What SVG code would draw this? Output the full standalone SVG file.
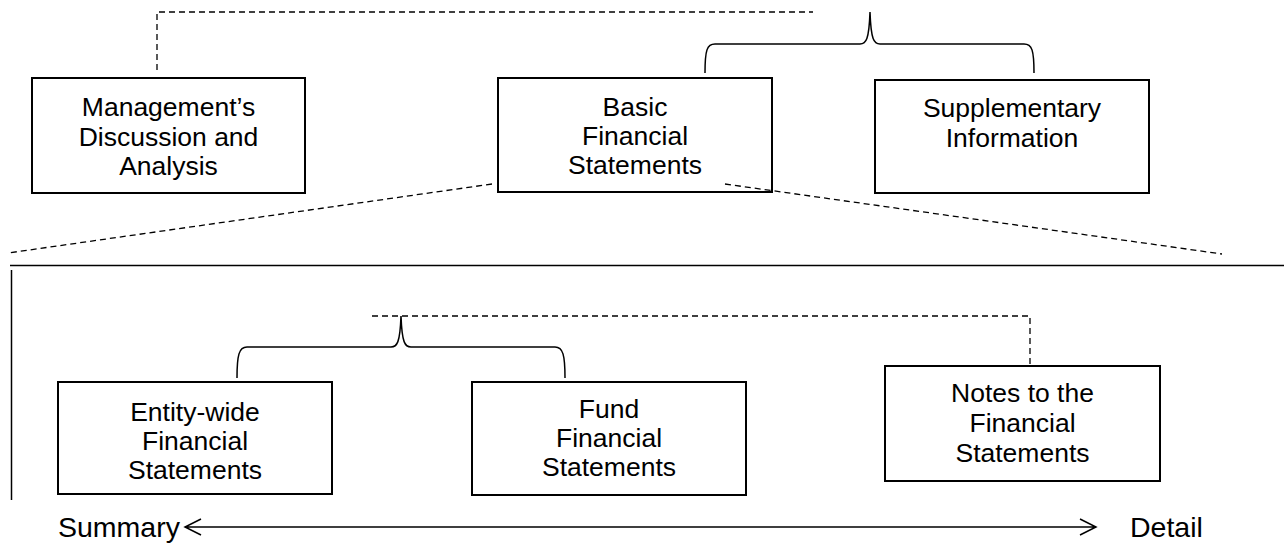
<svg xmlns="http://www.w3.org/2000/svg" width="1284" height="544" viewBox="0 0 1284 544">
<style>
.box{fill:#fff;stroke:#000;stroke-width:2}
.t{font-family:"Liberation Sans",Arial,sans-serif;font-size:26.5px;fill:#000;text-anchor:middle}
.lbl{font-family:"Liberation Sans",Arial,sans-serif;font-size:28.5px;fill:#000}
.dash{fill:none;stroke:#000;stroke-width:1.3;stroke-dasharray:6,4}
.solid{fill:none;stroke:#000;stroke-width:1.5}
</style>
<rect width="1284" height="544" fill="#fff"/>
<g id="mda">
<rect class="box" x="32" y="78" width="273" height="115"/>
<text class="t" x="168.5" y="116">Management’s</text>
<text class="t" x="168.5" y="145.5">Discussion and</text>
<text class="t" x="168.5" y="175">Analysis</text>
</g>
<g id="basic">
<rect class="box" x="498" y="78" width="274" height="114"/>
<text class="t" x="635" y="116">Basic</text>
<text class="t" x="635" y="145">Financial</text>
<text class="t" x="635" y="174">Statements</text>
</g>
<g id="supplementary">
<rect class="box" x="875" y="80" width="274" height="113"/>
<text class="t" x="1012" y="117">Supplementary</text>
<text class="t" x="1012" y="147">Information</text>
</g>
<g id="entity">
<rect class="box" x="58" y="382" width="274" height="112"/>
<text class="t" x="195" y="421">Entity-wide</text>
<text class="t" x="195" y="450">Financial</text>
<text class="t" x="195" y="479">Statements</text>
</g>
<g id="fund">
<rect class="box" x="472" y="382" width="274" height="113"/>
<text class="t" x="609" y="418">Fund</text>
<text class="t" x="609" y="447">Financial</text>
<text class="t" x="609" y="476">Statements</text>
</g>
<g id="notes">
<rect class="box" x="885" y="366" width="275" height="115"/>
<text class="t" x="1022.5" y="402">Notes to the</text>
<text class="t" x="1022.5" y="432">Financial</text>
<text class="t" x="1022.5" y="462">Statements</text>
</g>
<g id="connectors">
<path class="dash" d="M157,70 L157,12 L813,12"/>
<path class="solid" d="M705,73 C705,50 707,44 715,44 L860,44 C866,44 869,40 870,12 C871,40 874,44 880,44 L1024,44 C1032,44 1034,50 1034,73"/>
<path class="dash" d="M492,184 L8,253"/>
<path class="dash" d="M725,184 L1222,254"/>
<path class="solid" d="M10,265.5 L1284,265.5"/>
<path class="solid" d="M11.5,270 L11.5,500"/>
<path class="dash" d="M372,316 L1030,316 L1030,366"/>
<path class="solid" d="M237,378 C237,355 239,347 247,347 L391,347 C397,347 400,343 401,316 C402,343 405,347 411,347 L555,347 C563,347 565,355 565,378"/>
<path class="solid" d="M185,527 L1096,527 M201,519 L185,527 L201,535 M1080,519 L1096,527 L1080,535"/>
</g>
<g id="labels">
<text class="lbl" x="58" y="537">Summary</text>
<text class="lbl" x="1130" y="537">Detail</text>
</g>
</svg>
